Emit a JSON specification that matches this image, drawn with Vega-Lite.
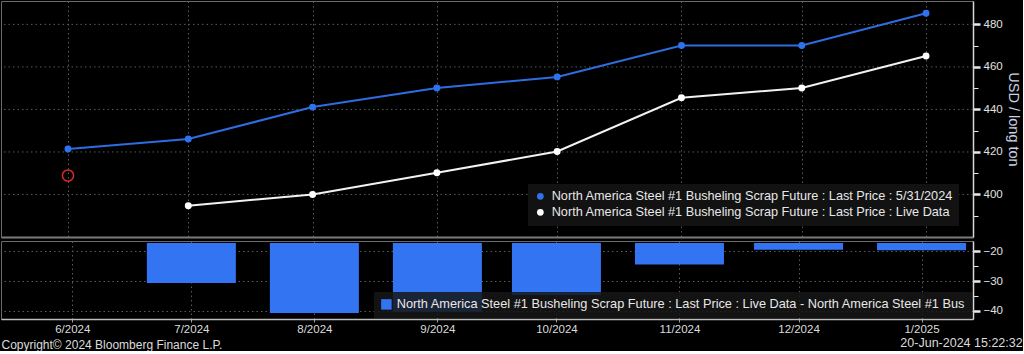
{
  "$schema": "https://vega.github.io/schema/vega-lite/v6.json",
  "background": "#000000",
  "padding": 0,
  "spacing": 2,
  "config": {
    "font": "Liberation Sans",
    "view": {"stroke": "#6a6a6a", "strokeWidth": 1},
    "axis": {
      "gridColor": "#5a5a5a",
      "gridDash": [1.5, 3],
      "gridWidth": 1,
      "labelColor": "#e0e0e0",
      "labelFont": "Liberation Sans",
      "labelFontSize": 11.5,
      "titleColor": "#c9d2e3",
      "titleFont": "Liberation Sans",
      "titleFontWeight": "normal"
    }
  },
  "title": {
    "text": "20-Jun-2024 15:22:32",
    "orient": "bottom",
    "anchor": "end",
    "frame": "bounds",
    "offset": -14,
    "dx": 2,
    "color": "#dcdcdc",
    "font": "Liberation Sans",
    "fontSize": 12.5,
    "fontWeight": "normal"
  },
  "datasets": {
    "prices": [
      {"date": "2024-06-01", "series": "North America Steel #1 Busheling Scrap Future : Last Price : 5/31/2024", "price": 421.4},
      {"date": "2024-07-01", "series": "North America Steel #1 Busheling Scrap Future : Last Price : 5/31/2024", "price": 426.1},
      {"date": "2024-08-01", "series": "North America Steel #1 Busheling Scrap Future : Last Price : 5/31/2024", "price": 441.1},
      {"date": "2024-09-01", "series": "North America Steel #1 Busheling Scrap Future : Last Price : 5/31/2024", "price": 450.1},
      {"date": "2024-10-01", "series": "North America Steel #1 Busheling Scrap Future : Last Price : 5/31/2024", "price": 455.3},
      {"date": "2024-11-01", "series": "North America Steel #1 Busheling Scrap Future : Last Price : 5/31/2024", "price": 470.1},
      {"date": "2024-12-01", "series": "North America Steel #1 Busheling Scrap Future : Last Price : 5/31/2024", "price": 470.1},
      {"date": "2025-01-01", "series": "North America Steel #1 Busheling Scrap Future : Last Price : 5/31/2024", "price": 485.2},
      {"date": "2024-07-01", "series": "North America Steel #1 Busheling Scrap Future : Last Price : Live Data", "price": 394.7},
      {"date": "2024-08-01", "series": "North America Steel #1 Busheling Scrap Future : Last Price : Live Data", "price": 400.0},
      {"date": "2024-09-01", "series": "North America Steel #1 Busheling Scrap Future : Last Price : Live Data", "price": 410.2},
      {"date": "2024-10-01", "series": "North America Steel #1 Busheling Scrap Future : Last Price : Live Data", "price": 420.2},
      {"date": "2024-11-01", "series": "North America Steel #1 Busheling Scrap Future : Last Price : Live Data", "price": 445.5},
      {"date": "2024-12-01", "series": "North America Steel #1 Busheling Scrap Future : Last Price : Live Data", "price": 450.1},
      {"date": "2025-01-01", "series": "North America Steel #1 Busheling Scrap Future : Last Price : Live Data", "price": 465.1}
    ],
    "marker": [
      {"date": "2024-06-01", "price": 408.9}
    ],
    "gridlines": [
      {"price": 400}, {"price": 420}, {"price": 440}, {"price": 460}, {"price": 480}
    ],
    "diffs": [
      {"date": "2024-07-01", "series": "North America Steel #1 Busheling Scrap Future : Last Price : Live Data - North America Steel #1 Bus", "diff": -30.6},
      {"date": "2024-08-01", "series": "North America Steel #1 Busheling Scrap Future : Last Price : Live Data - North America Steel #1 Bus", "diff": -40.7},
      {"date": "2024-09-01", "series": "North America Steel #1 Busheling Scrap Future : Last Price : Live Data - North America Steel #1 Bus", "diff": -40.3},
      {"date": "2024-10-01", "series": "North America Steel #1 Busheling Scrap Future : Last Price : Live Data - North America Steel #1 Bus", "diff": -34.6},
      {"date": "2024-11-01", "series": "North America Steel #1 Busheling Scrap Future : Last Price : Live Data - North America Steel #1 Bus", "diff": -24.4},
      {"date": "2024-12-01", "series": "North America Steel #1 Busheling Scrap Future : Last Price : Live Data - North America Steel #1 Bus", "diff": -19.4},
      {"date": "2025-01-01", "series": "North America Steel #1 Busheling Scrap Future : Last Price : Live Data - North America Steel #1 Bus", "diff": -19.6}
    ]
  },
  "vconcat": [
    {
      "width": 972,
      "height": 236,
      "encoding": {
        "y": {
          "field": "price", "type": "quantitative",
          "scale": {"domain": [380, 491], "nice": false, "zero": false},
          "axis": {
            "orient": "right",
            "grid": false,
            "title": "USD / long ton",
            "titleFontSize": 14.5,
            "titlePadding": 3,
            "values": [390, 400, 410, 420, 430, 440, 450, 460, 470, 480],
            "labelExpr": "datum.value % 20 === 0 ? datum.label : ''",
            "tickSize": {"condition": {"test": "datum.value % 20 === 0", "value": 7}, "value": 5},
            "tickWidth": {"condition": {"test": "datum.value % 20 === 0", "value": 2.5}, "value": 1},
            "tickColor": "#e8e8e8",
            "domainColor": "#d8d8d8",
            "domainWidth": 1.5,
            "labelPadding": 3
          }
        }
      },
      "layer": [
        {
          "data": {"name": "gridlines"},
          "mark": {"type": "rule", "color": "#5a5a5a", "strokeWidth": 1, "strokeDash": [1.5, 3]},
          "encoding": {}
        },
        {
          "data": {"name": "prices"},
          "mark": {"type": "line", "strokeWidth": 2, "clip": true},
          "encoding": {
            "x": {
              "field": "date", "type": "temporal",
              "scale": {"type": "utc", "domain": [{"year": 2024, "month": 5, "date": 15, "hours": 7, "utc": true}, {"year": 2025, "month": 1, "date": 12, "hours": 17, "utc": true}]},
              "axis": {
                "orient": "bottom", "title": null, "labels": false, "ticks": false,
                "domain": true, "domainColor": "#7a7a7a", "domainWidth": 2,
                "grid": true,
                "values": [
                  {"year": 2024, "month": 6, "date": 1, "utc": true},
                  {"year": 2024, "month": 7, "date": 1, "utc": true},
                  {"year": 2024, "month": 8, "date": 1, "utc": true},
                  {"year": 2024, "month": 9, "date": 1, "utc": true},
                  {"year": 2024, "month": 10, "date": 1, "utc": true},
                  {"year": 2024, "month": 11, "date": 1, "utc": true},
                  {"year": 2024, "month": 12, "date": 1, "utc": true},
                  {"year": 2025, "month": 1, "date": 1, "utc": true}
                ]
              }
            },
            "stroke": {
              "field": "series", "type": "nominal",
              "scale": {"domain": ["North America Steel #1 Busheling Scrap Future : Last Price : 5/31/2024", "North America Steel #1 Busheling Scrap Future : Last Price : Live Data"], "range": ["#2d6de0", "#f2f2f2"]},
              "legend": null
            }
          }
        },
        {
          "data": {"name": "prices"},
          "mark": {"type": "point", "filled": true, "size": 48, "opacity": 1, "strokeWidth": 0},
          "encoding": {
            "x": {"field": "date", "type": "temporal"},
            "fill": {
              "field": "series", "type": "nominal",
              "scale": {"domain": ["North America Steel #1 Busheling Scrap Future : Last Price : 5/31/2024", "North America Steel #1 Busheling Scrap Future : Last Price : Live Data"], "range": ["#2f72ee", "#ffffff"]},
              "legend": {
                "title": null,
                "orient": "none",
                "legendX": 527,
                "legendY": 183,
                "padding": 6,
                "fillColor": "#121212",
                "symbolType": "circle",
                "symbolSize": 45,
                "symbolStrokeWidth": 0,
                "labelColor": "#e8e8e8",
                "labelFont": "Liberation Sans",
                "labelFontSize": 12.7,
                "labelLimit": 700,
                "labelOffset": 5,
                "rowPadding": 2
              }
            }
          }
        },
        {
          "data": {"name": "marker"},
          "mark": {"type": "point", "filled": false, "size": 125, "stroke": "#d92b2b", "strokeWidth": 1.5, "opacity": 1},
          "encoding": {
            "x": {"field": "date", "type": "temporal"}
          }
        }
      ],
      "resolve": {"legend": {"stroke": "independent", "fill": "independent"}}
    },
    {
      "width": 972,
      "height": 78,
      "data": {"name": "diffs"},
      "mark": {"type": "bar", "size": 89, "clip": true},
      "encoding": {
        "x": {
          "field": "date", "type": "temporal",
          "scale": {"type": "utc", "domain": [{"year": 2024, "month": 5, "date": 15, "hours": 7, "utc": true}, {"year": 2025, "month": 1, "date": 12, "hours": 17, "utc": true}]},
          "axis": {
            "orient": "bottom",
            "title": "Copyright\u00a9 2024 Bloomberg Finance L.P.",
            "titleAnchor": "start",
            "titleAlign": "left",
            "titleColor": "#dcdcdc",
            "titleFontSize": 12,
            "titlePadding": 5,
            "format": "%-m/%Y",
            "labelPadding": 1,
            "labelColor": "#dcdcdc",
            "tickSize": 3,
            "tickColor": "#9a9a9a",
            "domainColor": "#bdbdbd",
            "domainWidth": 1.5,
            "grid": true,
            "values": [
              {"year": 2024, "month": 6, "date": 1, "utc": true},
              {"year": 2024, "month": 7, "date": 1, "utc": true},
              {"year": 2024, "month": 8, "date": 1, "utc": true},
              {"year": 2024, "month": 9, "date": 1, "utc": true},
              {"year": 2024, "month": 10, "date": 1, "utc": true},
              {"year": 2024, "month": 11, "date": 1, "utc": true},
              {"year": 2024, "month": 12, "date": 1, "utc": true},
              {"year": 2025, "month": 1, "date": 1, "utc": true}
            ]
          }
        },
        "y": {
          "field": "diff", "type": "quantitative",
          "scale": {"domain": [-42.7, -16.5], "nice": false, "zero": false},
          "axis": {
            "orient": "right",
            "grid": true,
            "title": null,
            "values": [-40, -35, -30, -25, -20],
            "labelExpr": "datum.value % 10 === 0 ? datum.label : ''",
            "gridOpacity": {"condition": {"test": "datum.value % 10 === 0", "value": 1}, "value": 0},
            "tickSize": {"condition": {"test": "datum.value % 10 === 0", "value": 7}, "value": 5},
            "tickWidth": {"condition": {"test": "datum.value % 10 === 0", "value": 2.5}, "value": 1},
            "tickColor": "#e8e8e8",
            "domainColor": "#d8d8d8",
            "domainWidth": 1.5,
            "labelPadding": 3
          }
        },
        "y2": {"datum": -17.2},
        "color": {
          "field": "series", "type": "nominal",
          "scale": {"range": ["#3374f2"]},
          "legend": {
            "title": null,
            "orient": "none",
            "legendX": 373,
            "legendY": 51,
            "padding": 6,
            "fillColor": "rgba(22,22,22,0.85)",
            "symbolType": "square",
            "symbolSize": 110,
            "labelColor": "#e8e8e8",
            "labelFont": "Liberation Sans",
            "labelFontSize": 12.75,
            "labelLimit": 800,
            "labelOffset": 4
          }
        }
      }
    }
  ],
  "resolve": {
    "scale": {"x": "independent", "y": "independent", "color": "independent", "fill": "independent", "stroke": "independent"},
    "legend": {"color": "independent", "fill": "independent", "stroke": "independent"}
  }
}
